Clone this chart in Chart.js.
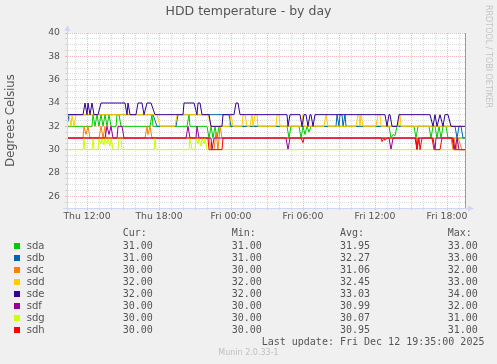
<!DOCTYPE html>
<html>
<head>
<meta charset="utf-8">
<script src="https://cdn.jsdelivr.net/npm/chart.js@4.4.1/dist/chart.umd.min.js"></script>
<style>
  body { margin: 0; background: #f0f0f0; }
  #wrap { position: relative; width: 497px; height: 364px; overflow: hidden; }
  canvas { position: absolute; left: 0; top: 0; }
  .lg { position: absolute; font: 10px "DejaVu Sans Mono", monospace; color: #555; line-height: 12px; white-space: pre; }
  .nm { font-family: "DejaVu Sans", sans-serif; }
  .sw { position: absolute; width: 6px; height: 6px; }
  #marca { position: absolute; left: 484px; top: 5px; writing-mode: vertical-rl; font: 8px "DejaVu Sans", sans-serif; line-height: 9px; color: #c4c4c4; white-space: nowrap; }
  #rodape { position: absolute; left: 0; width: 497px; top: 348px; text-align: center; font: 8px "DejaVu Sans", sans-serif; line-height: 10px; color: #c0c0c0; }
</style>
</head>
<body>
<div id="wrap">
  <canvas id="grafico" width="497" height="364"></canvas>
  <div id="legenda"></div>
  <div id="marca">RRDTOOL / TOBI OETIKER</div>
  <div id="rodape">Munin 2.0.33-1</div>
</div>
<script>
// discos e cores
const names = ['sda', 'sdb', 'sdc', 'sdd', 'sde', 'sdf', 'sdg', 'sdh'];
const colors = ['#00cc00', '#0066b3', '#ff8000', '#ffcc00', '#330099', '#990099', '#ccff00', '#ff0000'];

// tabela da legenda
const curVals = [31.00, 31.00, 30.00, 32.00, 32.00, 30.00, 30.00, 30.00];
const minVals = [31.00, 31.00, 30.00, 32.00, 32.00, 30.00, 30.00, 30.00];
const avgVals = [31.95, 32.27, 31.06, 32.45, 33.03, 30.99, 30.07, 30.95];
const maxVals = [33.00, 33.00, 32.00, 33.00, 34.00, 32.00, 31.00, 31.00];
const lastUpdate = 'Fri Dec 12 19:35:00 2025';

// eixo x em minutos desde Thu 00:00
const xMin = 620;   // Thu 10:20
const xMax = 2610;  // Fri 19:30
const xTickMinutes = [720, 1080, 1440, 1800, 2160, 2520];
const xTickLabels = ['Thu 12:00', 'Thu 18:00', 'Fri 00:00', 'Fri 06:00', 'Fri 12:00', 'Fri 18:00'];
const yMin = 25;
const yMax = 40;

// series: [minuto, graus]
const sda = [[620,32],[745,32],[750,33],[760,32],[770,33],[780,32],[790,33],[800,32],[810,33],[820,32],[830,33],[840,32],[865,32],[870,33],[880,33],[890,32],[1035,32],[1045,33],[1050,32],[1220,32],[1230,33],[1235,32],[1320,32],[1330,31],[1340,32],[1350,31],[1360,32],[1370,31],[1380,32],[1720,32],[1730,31],[1740,32],[1780,32],[1790,31],[1800,32],[1810,31.3],[1820,32],[1830,31.5],[1840,32],[2230,32],[2240,31],[2250,31.3],[2260,31.2],[2270,32],[2355,32],[2365,31],[2375,32],[2430,32],[2440,31],[2450,32],[2460,32],[2470,31],[2480,32],[2490,31],[2500,32],[2515,32],[2525,31],[2610,31]];
const sdb = [[620,32],[630,33],[1050,33],[1070,32],[1165,32],[1175,33],[1430,33],[1440,32],[1965,32],[1970,33],[1980,32],[1985,33],[1995,33],[2000,32],[2010,33],[2015,32],[2560,32],[2570,31],[2580,32],[2590,32],[2600,31],[2610,31]];
const sdc = [[620,31],[700,31],[705,32],[715,31.3],[725,32],[735,31],[780,31],[790,32],[800,31],[810,32],[815,31],[1010,31],[1020,32],[1025,31.3],[1035,32],[1045,31],[1330,31],[1340,30],[1355,30],[1365,31.5],[1375,30],[1385,32],[1395,31],[2540,31],[2550,30],[2555,31],[2565,30],[2575,31],[2585,30.5],[2595,30],[2610,30]];
const sdd = [[620,33],[630,33],[640,32],[645,33],[655,32],[665,33],[1070,33],[1085,32],[1160,32],[1170,33],[1325,33],[1340,32],[1430,32],[1440,33],[1450,32],[1495,32],[1500,33],[1510,33],[1520,32],[1535,32],[1545,33],[1550,32],[1560,33],[1570,33],[1575,32],[1665,32],[1670,33],[1680,33],[1685,32],[1790,32],[1800,33],[1805,32],[1905,32],[1915,33],[1925,32],[2065,32],[2075,33],[2080,33],[2085,32],[2090,33],[2100,32],[2165,32],[2175,33],[2185,33],[2190,32],[2275,32],[2285,33],[2290,32],[2610,32]];
const sde = [[620,33],[700,33],[710,34],[720,33],[725,34],[735,33],[745,34],[755,33],[775,33],[790,34],[910,34],[920,33],[925,34],[935,33],[965,33],[975,34],[995,34],[1005,33],[1020,34],[1040,34],[1060,33],[1200,33],[1205,34],[1255,34],[1270,33],[1275,34],[1285,34],[1295,33],[1330,33],[1340,32],[1395,32],[1400,33],[1455,33],[1465,34],[1475,34],[1485,33],[1720,33],[1725,32],[1735,33],[1785,33],[1795,32],[1805,33],[1815,33],[1825,32],[1835,33],[1840,33],[1850,32],[1860,33],[2210,33],[2220,32],[2230,33],[2235,33],[2245,32],[2270,32],[2280,33],[2435,33],[2450,32],[2460,33],[2470,32],[2485,33],[2500,32],[2510,33],[2525,33],[2540,32],[2610,32]];
const sdf = [[620,31],[810,31],[820,32],[830,31.3],[840,32],[850,31],[870,31],[875,32],[895,32],[905,31],[1215,31],[1225,32],[1235,31],[1265,31],[1270,32],[1280,31],[1340,31],[1345,30],[1355,31],[1715,31],[1725,30],[1735,31],[2230,31],[2240,30],[2250,31],[2360,31],[2370,30],[2375,31],[2450,31],[2460,30],[2465,31],[2550,31],[2560,30],[2570,31],[2580,30],[2610,30]];
const sdg = [[620,30],[700,30],[705,31],[710,30],[745,30],[750,31],[755,30],[775,30],[780,31],[790,30.5],[795,31],[805,30.4],[810,31],[820,30.5],[825,31],[835,30.3],[840,31],[850,30],[875,30],[880,31],[890,31],[895,30],[1055,30],[1060,31],[1065,30],[1230,30],[1235,31],[1245,30],[1260,30],[1265,31],[1275,30.5],[1280,31],[1290,30.3],[1295,31],[1305,30.5],[1310,31],[1320,30],[2610,30]];
const sdh = [[620,31],[1325,31],[1330,30],[1395,30],[1400,31],[1790,31],[1800,30.6],[1805,31],[2190,31],[2195,30.7],[2205,31],[2210,30.8],[2220,31],[2365,31],[2370,30],[2380,31],[2385,30],[2395,31],[2445,31],[2455,30],[2485,30],[2495,31],[2545,31],[2555,30],[2610,30]];
const series = [sda, sdb, sdc, sdd, sde, sdf, sdg, sdh];

const fonte = '"DejaVu Sans", sans-serif';
const corTexto = '#555';
const gradeMenor = 'rgba(128,128,128,0.27)';
const gradeMaior = 'rgba(230,70,70,0.36)';
const corEixo = '#cfd6f8';

// fundo branco da area do grafico
const fundo = {
  id: 'fundo',
  beforeDraw(chart) {
    const { ctx, chartArea: a } = chart;
    ctx.save();
    ctx.fillStyle = '#ffffff';
    ctx.fillRect(a.left, a.top, a.right - a.left, a.bottom - a.top);
    ctx.restore();
  }
};

// setas dos eixos, como no rrdtool
const setas = {
  id: 'setas',
  afterDraw(chart) {
    const { ctx, chartArea: a } = chart;
    ctx.save();
    ctx.strokeStyle = corEixo;
    ctx.fillStyle = corEixo;
    ctx.lineWidth = 1;
    ctx.beginPath();
    ctx.moveTo(a.left - 4, a.bottom + 0.5);
    ctx.lineTo(a.right + 4, a.bottom + 0.5);
    ctx.moveTo(a.left + 0.5, a.bottom + 4);
    ctx.lineTo(a.left + 0.5, a.top - 3);
    ctx.stroke();
    ctx.beginPath();
    ctx.moveTo(a.right + 9, a.bottom + 0.5);
    ctx.lineTo(a.right + 3, a.bottom - 2.5);
    ctx.lineTo(a.right + 3, a.bottom + 3.5);
    ctx.closePath();
    ctx.fill();
    ctx.beginPath();
    ctx.moveTo(a.left + 0.5, a.top - 8);
    ctx.lineTo(a.left - 2.5, a.top - 2);
    ctx.lineTo(a.left + 3.5, a.top - 2);
    ctx.closePath();
    ctx.fill();
    ctx.restore();
  }
};

const ctx = document.getElementById('grafico').getContext('2d');

new Chart(ctx, {
  type: 'line',
  data: {
    datasets: names.map((nome, i) => ({
      label: nome,
      data: series[i].map(p => ({ x: p[0], y: p[1] })),
      borderColor: colors[i],
      backgroundColor: colors[i],
      borderWidth: 1,
      pointRadius: 0,
      tension: 0,
      fill: false,
      order: names.length - i
    }))
  },
  options: {
    responsive: false,
    animation: false,
    devicePixelRatio: 1,
    layout: { padding: 0 },
    plugins: {
      legend: { display: false },
      tooltip: { enabled: false },
      title: {
        display: true,
        text: 'HDD temperature - by day',
        color: corTexto,
        font: { family: fonte, size: 12.5, weight: 'normal' },
        padding: { top: 4, bottom: 14 }
      }
    },
    scales: {
      x: {
        type: 'linear',
        min: xMin,
        max: xMax,
        bounds: 'data',
        afterBuildTicks(scale) {
          const t = [];
          for (let m = Math.ceil(scale.min / 60) * 60; m < scale.max; m += 60) t.push({ value: m });
          scale.ticks = t;
        },
        afterFit(scale) { scale.height = 364 - 208; },
        ticks: {
          autoSkip: false,
          maxRotation: 0,
          minRotation: 0,
          padding: 1,
          color: corTexto,
          font: { family: fonte, size: 9.3 },
          callback(value) {
            const k = xTickMinutes.indexOf(value);
            return k >= 0 ? xTickLabels[k] : '';
          }
        },
        grid: {
          color: c => (c.tick && c.tick.value % 180 === 0) ? gradeMaior : gradeMenor,
          tickLength: 2,
          lineWidth: 1
        },
        border: { color: corEixo, dash: [1, 1] }
      },
      y: {
        min: yMin,
        max: yMax,
        afterFit(scale) { scale.width = 67; },
        ticks: {
          stepSize: 0.5,
          maxTicksLimit: 100,
          autoSkip: false,
          padding: 5,
          color: corTexto,
          font: { family: fonte, size: 9.3 },
          callback: v => (v % 2 === 0 ? String(v) : '')
        },
        grid: {
          color: c => (c.tick && c.tick.value % 2 === 0) ? gradeMaior : gradeMenor,
          tickLength: 2,
          lineWidth: 1
        },
        border: { color: corEixo, dash: [1, 1] },
        title: {
          display: true,
          text: 'Degrees Celsius',
          color: corTexto,
          font: { family: fonte, size: 11.5 },
          padding: { top: 4, bottom: 0 }
        }
      },
      yr: {
        position: 'right',
        display: true,
        afterFit(scale) { scale.width = 32; },
        ticks: { display: false },
        grid: { display: false, drawTicks: false },
        border: { display: true, color: '#9c9c9c', width: 1 }
      }
    }
  },
  plugins: [fundo, setas]
});

// legenda em texto, estilo munin
const legenda = document.getElementById('legenda');
const colX = [122.7, 231.7, 340, 447.7];
['Cur:', 'Min:', 'Avg:', 'Max:'].forEach((h, k) => {
  const d = document.createElement('div');
  d.className = 'lg';
  d.style.left = colX[k] + 'px';
  d.style.top = '227.3px';
  d.textContent = h;
  legenda.appendChild(d);
});
names.forEach((nome, i) => {
  const yc = 245.7 + 12 * i;
  const sw = document.createElement('div');
  sw.className = 'sw';
  sw.style.left = '14px';
  sw.style.top = (yc - 3) + 'px';
  sw.style.background = colors[i];
  legenda.appendChild(sw);

  const n = document.createElement('div');
  n.className = 'lg nm';
  n.style.left = '26.7px';
  n.style.top = (yc - 6) + 'px';
  n.textContent = nome;
  legenda.appendChild(n);

  [curVals[i], minVals[i], avgVals[i], maxVals[i]].forEach((v, k) => {
    const d = document.createElement('div');
    d.className = 'lg';
    d.style.left = colX[k] + 'px';
    d.style.top = (yc - 6) + 'px';
    d.textContent = v.toFixed(2);
    legenda.appendChild(d);
  });
});
const ult = document.createElement('div');
ult.className = 'lg';
ult.style.left = '261.7px';
ult.style.top = (245.7 + 12 * 8 - 6) + 'px';
ult.textContent = 'Last update: ' + lastUpdate;
legenda.appendChild(ult);
</script>
</body>
</html>
